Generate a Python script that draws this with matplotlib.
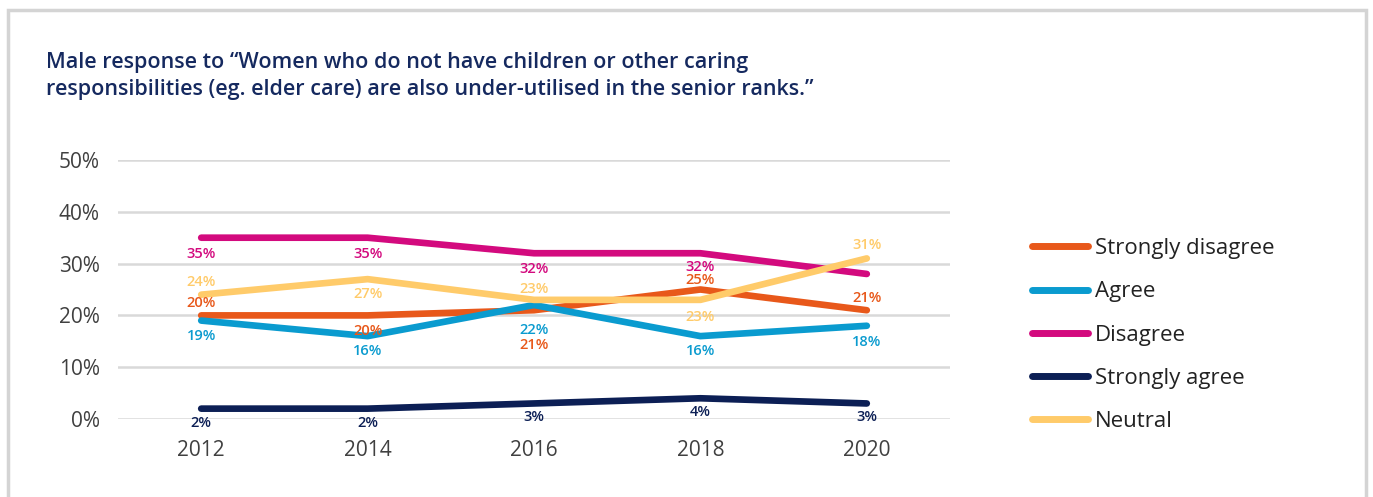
import matplotlib
matplotlib.use("Agg")
import matplotlib.pyplot as plt
from matplotlib.patches import Rectangle

years = [2012, 2014, 2016, 2018, 2020]
series_names = ["Strongly disagree", "Agree", "Disagree", "Strongly agree", "Neutral"]
strongly_disagree = [20, 20, 21, 25, 21]
agree = [19, 16, 22, 16, 18]
disagree = [35, 35, 32, 32, 28]
strongly_agree = [2, 2, 3, 4, 3]
neutral = [24, 27, 23, 23, 31]
# which points carry a value label (Disagree 2020 is unlabelled)
labelled = {
    "Disagree": [True, True, True, True, False],
}
yticks = [0, 10, 20, 30, 40, 50]
ytick_labels = ["0%", "10%", "20%", "30%", "40%", "50%"]
title = ("Male response to \u201cWomen who do not have children or other caring\n"
         "responsibilities (eg. elder care) are also under-utilised in the senior ranks.\u201d")

colors = {
    "Strongly disagree": "#E8581A",
    "Agree": "#0A9BCF",
    "Disagree": "#D30A7E",
    "Strongly agree": "#0C1F55",
    "Neutral": "#FFCB6A",
}
values = {
    "Strongly disagree": strongly_disagree,
    "Agree": agree,
    "Disagree": disagree,
    "Strongly agree": strongly_agree,
    "Neutral": neutral,
}
# vertical offsets (points) of each value label relative to its point
label_offsets = {
    "Strongly disagree": [9, -11, -25, 7, 9],
    "Agree": [-11, -11, -18, -11, -12],
    "Disagree": [-12, -12, -11, -10, 0],
    "Strongly agree": [-10, -10, -10, -10, -10],
    "Neutral": [9, -11, 8, -12, 10],
}

plt.rcParams["font.family"] = ["Open Sans", "DejaVu Sans"]

fig = plt.figure(figsize=(13.73, 4.97), dpi=100)
fig.patch.set_facecolor("white")

# panel frame
fig.patches.append(Rectangle((8 / 1373, -0.05), (1366 - 8) / 1373, 1.05 - 10 / 497,
                             transform=fig.transFigure, fill=False,
                             edgecolor="#D4D4D4", linewidth=2.5, zorder=0))

fig.text(46 / 1373, 1 - 52 / 497, title, ha="left", va="top", fontsize=15.5,
         color="#15295F", fontweight="semibold", linespacing=1.38)

ax = fig.add_axes([118 / 1373, 1 - 419 / 497, (950 - 118) / 1373, (419 - 160) / 497])
ax.set_xlim(2011, 2021)
ax.set_ylim(0, 50)
for s in ax.spines.values():
    s.set_visible(False)
ax.set_yticks(yticks)
ax.set_yticklabels(ytick_labels)
ax.set_xticks(years)
ax.set_xticklabels([str(y) for y in years])
ax.tick_params(axis="both", length=0, labelsize=15, labelcolor="#404040")
ax.tick_params(axis="y", pad=13)
ax.tick_params(axis="x", pad=15)
ax.yaxis.grid(True, color="#D9D9D9", linewidth=1.8)
ax.set_axisbelow(True)

for name in series_names:
    vals = values[name]
    ax.plot(years, vals, color=colors[name], linewidth=4.8, solid_capstyle="round",
            solid_joinstyle="round", label=name, zorder=3, clip_on=False)
    flags = labelled.get(name, [True] * len(years))
    for x, v, off, show in zip(years, vals, label_offsets[name], flags):
        if not show:
            continue
        ax.annotate(f"{v}%", (x, v), xytext=(0, off), textcoords="offset points",
                    ha="center", va="center", fontsize=10.5, color=colors[name],
                    fontweight="semibold", zorder=4)

leg = ax.legend(loc="center left", bbox_to_anchor=((1012 - 118) / 832, (419 - 335) / 259),
                frameon=False, fontsize=16, handlelength=2.5, handletextpad=0.35,
                labelspacing=1.0, borderpad=0.4)
for line in leg.get_lines():
    line.set_linewidth(5)
    line.set_solid_capstyle("round")
for t in leg.get_texts():
    t.set_color("#222222")

fig.savefig("out.png", dpi=100, facecolor="white")
